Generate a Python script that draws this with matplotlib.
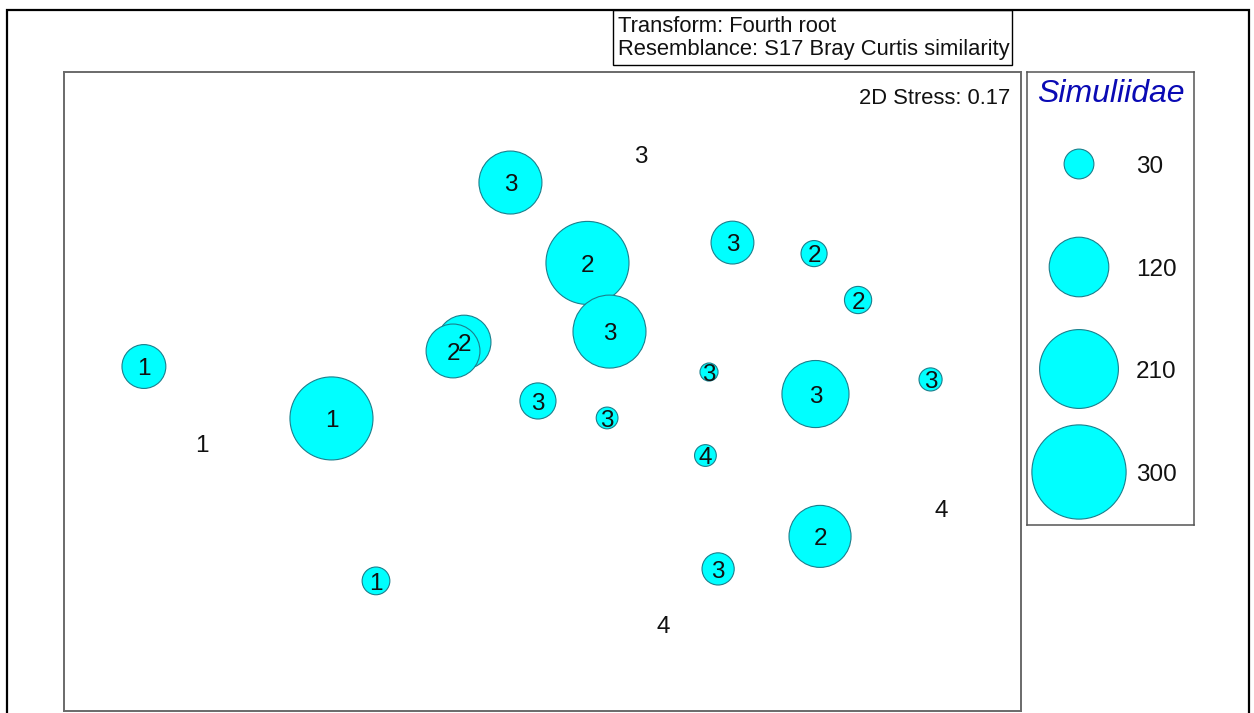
import matplotlib
matplotlib.use("Agg")
import matplotlib.pyplot as plt
from matplotlib.patches import Rectangle
import numpy as np

plt.rcParams['font.family'] = ['Liberation Sans', 'DejaVu Sans']

# nMDS ordination of samples (fourth-root transform, Bray-Curtis similarity)
mds_x = [-0.134, 0.412, 0.188, 0.794, 1.135, 1.319, -0.328, -0.374, 0.280,
         -1.666, 0.696, 1.141, 1.622, -0.019, 0.270, -0.882, -1.423, 0.681,
         1.666, 1.160, 0.734, -0.696, 0.504]
mds_y = [0.868, 0.987, 0.532, 0.617, 0.571, 0.377, 0.201, 0.164, 0.245,
         0.099, 0.076, -0.016, 0.045, -0.045, -0.116, -0.118, -0.221, -0.273,
         -0.492, -0.611, -0.747, -0.797, -0.977]
group = ['3', '3', '2', '3', '2', '2', '2', '2', '3',
         '1', '3', '3', '3', '3', '3', '1', '1', '4',
         '4', '2', '3', '1', '4']
# Simuliidae abundance per sample (bubble area)
simuliidae = [134, 0, 233, 62, 23, 25, 98, 98, 180,
              65, 11, 152, 18, 44, 16, 233, 0, 16,
              0, 130, 35, 26, 0]

legend_values = [30, 120, 210, 300]
stress = 0.17
transform_label = "Transform: Fourth root"
resemblance_label = "Resemblance: S17 Bray Curtis similarity"
variable_name = "Simuliidae"

W, H, DPI = 1254, 713, 100
PX_PER_SQRT = 2.72          # bubble radius in pixels per sqrt(abundance)
FILL = '#00FFFF'
EDGE = '#1b7f8c'


def fx(x):
    return x / W


def fy(y):
    return 1 - y / H


def bubble_size(v):
    d_pt = 2 * PX_PER_SQRT * np.sqrt(np.asarray(v, float)) * 72 / DPI
    return d_pt ** 2


fig = plt.figure(figsize=(W / DPI, H / DPI), dpi=DPI)
fig.patch.set_facecolor('white')

# outer frame (open at the bottom edge of the image)
fig.add_artist(Rectangle((fx(7), fy(H + 20)), fx(1249) - fx(7), fy(10) - fy(H + 20),
                         transform=fig.transFigure, fill=False, edgecolor='black',
                         linewidth=1.6, clip_on=False))

# header box
fig.add_artist(Rectangle((fx(613), fy(65)), fx(1012) - fx(613), fy(10) - fy(65),
                         transform=fig.transFigure, fill=False, edgecolor='black',
                         linewidth=1.0))
fig.text(fx(618), fy(32), transform_label, fontsize=15.8, ha='left', va='baseline',
         color='#111111')
fig.text(fx(618), fy(55), resemblance_label, fontsize=15.8, ha='left', va='baseline',
         color='#111111')

# main ordination panel
left, right, top, bottom = 64, 1021, 72, 711
ax = fig.add_axes([fx(left), fy(bottom), fx(right) - fx(left), fy(top) - fy(bottom)])
scale = (right - left) / 4.0
ax.set_xlim(-2.0, 2.0)
ax.set_ylim(1.33 - (bottom - top) / scale, 1.33)
ax.set_xticks([])
ax.set_yticks([])
for sp in ax.spines.values():
    sp.set_color('#6a6a6a')
    sp.set_linewidth(1.4)

xs = np.array(mds_x)
ys = np.array(mds_y)
vals = np.array(simuliidae, float)
mask = vals > 0
ax.scatter(xs[mask], ys[mask], s=bubble_size(vals[mask]), c=FILL,
           edgecolors=EDGE, linewidths=0.8, zorder=2)

label_fs = 17.5
cap_half = 0.716 * label_fs / 2
for x, y, g in zip(mds_x, mds_y, group):
    ax.annotate(g, (x, y), xytext=(0, -cap_half), textcoords='offset points',
                ha='center', va='baseline', fontsize=label_fs, color='#111111',
                zorder=3)

fig.text(fx(1010), fy(104), f"2D Stress: {stress:.2f}", fontsize=15.8,
         ha='right', va='baseline', color='#111111')

# bubble legend
lx0, lx1, ly0, ly1 = 1027, 1194, 72, 525
lax = fig.add_axes([fx(lx0), fy(ly1), fx(lx1) - fx(lx0), fy(ly0) - fy(ly1)])
lax.set_xlim(lx0, lx1)
lax.set_ylim(ly1, ly0)
lax.set_xticks([])
lax.set_yticks([])
for sp in lax.spines.values():
    sp.set_color('#555555')
    sp.set_linewidth(1.1)

legend_y = [164, 267, 369, 472]
lax.scatter([1079] * len(legend_values), legend_y, s=bubble_size(legend_values),
            c=FILL, edgecolors=EDGE, linewidths=0.8, zorder=2)
for v, y in zip(legend_values, legend_y):
    lax.annotate(str(v), (1136, y), xytext=(0, -cap_half), textcoords='offset points',
                 ha='left', va='baseline', fontsize=label_fs, color='#111111')
lax.text(1111, 102, variable_name, fontsize=23, style='italic', color='#0a0ab4',
         ha='center', va='baseline')

fig.savefig('out.png', dpi=DPI, facecolor='white')
